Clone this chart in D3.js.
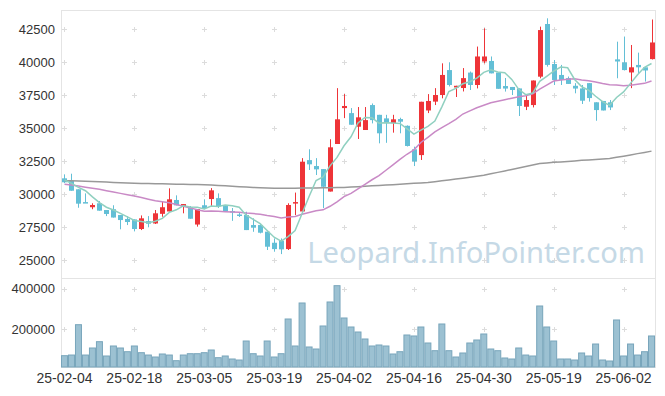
<!DOCTYPE html>
<html>
<head>
<meta charset="utf-8">
<script src="https://cdn.jsdelivr.net/npm/d3@7"></script>
<style>
  body { margin: 0; background: #fff; }
  svg { display: block; font-family: "Noto Sans", sans-serif; }
</style>
</head>
<body>
<svg id="chart" width="665" height="396"></svg>
<script>
// trading days
const dates = [
  "25-02-04","25-02-05","25-02-06","25-02-07","25-02-10","25-02-11","25-02-12","25-02-13","25-02-14","25-02-17",
  "25-02-18","25-02-19","25-02-20","25-02-21","25-02-24","25-02-25","25-02-26","25-02-27","25-02-28","25-03-04",
  "25-03-05","25-03-06","25-03-07","25-03-10","25-03-11","25-03-12","25-03-13","25-03-14","25-03-17","25-03-18",
  "25-03-19","25-03-20","25-03-21","25-03-24","25-03-25","25-03-26","25-03-27","25-03-28","25-03-31","25-04-01",
  "25-04-02","25-04-03","25-04-04","25-04-07","25-04-08","25-04-09","25-04-10","25-04-11","25-04-14","25-04-15",
  "25-04-16","25-04-17","25-04-18","25-04-21","25-04-22","25-04-23","25-04-24","25-04-25","25-04-28","25-04-29",
  "25-04-30","25-05-02","25-05-07","25-05-08","25-05-09","25-05-12","25-05-13","25-05-14","25-05-15","25-05-16",
  "25-05-19","25-05-20","25-05-21","25-05-22","25-05-23","25-05-26","25-05-27","25-05-28","25-05-29","25-05-30",
  "25-06-02","25-06-04","25-06-05","25-06-09","25-06-10"
];

const open = [
  31190,31000,30360,29390,29000,29300,28790,28850,28410,28110,
  28080,27350,27950,27770,28500,28680,29550,29090,29000,27690,
  29150,29620,29690,29090,28710,28450,28410,27650,27650,27150,
  26310,26460,25830,29320,28680,32570,32120,31890,30190,33790,
  36510,36130,35100,34850,36740,36000,35730,35370,35680,35170,
  33390,32950,36330,37000,37500,39390,38070,38030,39200,38260,
  40040,40080,39200,38180,38110,38000,36610,36740,38890,42880,
  39850,39020,38780,38200,38000,38400,36950,37050,36950,40200,
  39970,39210,39780,39600,40220
];
const high = [
  31490,31540,30360,30050,29300,29470,28790,29150,28410,28330,
  28080,28380,28330,28790,29420,30430,29900,29240,29090,28860,
  29600,30450,30050,29100,28940,28560,28660,28160,27730,27150,
  26640,26640,29300,30110,32720,33390,32720,31890,34150,38020,
  37570,36510,36590,36590,36860,36000,36000,36000,35780,35200,
  33590,36990,37570,38020,39900,39980,38200,39540,39280,41170,
  42550,40420,39200,38790,38110,38000,37500,38600,42680,43310,
  40150,39780,38900,38400,38260,38400,36950,37050,37120,41540,
  41930,41290,40710,39600,43220
];
const low = [
  30830,30250,28960,29340,28850,28740,28330,28220,27330,27650,
  27170,27270,27480,27730,28280,28680,29140,28540,28130,27530,
  28850,29020,28940,28680,27970,28260,27270,27140,27020,25760,
  25630,25450,25760,28410,28550,31820,31440,28940,30190,33790,
  35750,35250,34170,34850,35350,33840,33880,34650,34600,33600,
  32120,32580,36130,36740,37250,38150,37350,37770,37880,38000,
  39900,39140,37970,37760,37500,35910,36360,36560,38770,39650,
  38260,38260,38340,37630,36820,37000,35550,36330,36360,38770,
  39360,38020,39150,38520,40190
];
const close = [
  30890,30250,29270,29340,29170,28740,28490,28220,28030,27880,
  27350,28160,27750,28540,29000,29600,29140,29240,28130,28860,
  28940,30280,29060,28680,28600,28380,27270,27450,27070,26010,
  25830,25810,29170,29390,32450,32250,31870,30550,33540,35660,
  36670,35250,35810,35600,35600,34600,35420,35660,35480,33640,
  32470,36990,37050,37500,39020,38260,38200,38780,38260,40420,
  40420,39140,37970,37990,37880,36670,37120,38600,42420,39780,
  38640,38640,38340,37990,37070,37270,36360,36330,36560,40040,
  39390,39600,39600,39360,41480
];
const volume = [
  67500,70800,221300,70800,105700,137000,66000,115600,105700,87300,
  115600,82400,70800,61000,75900,70800,42700,70800,77400,77400,
  82400,95800,57600,66000,51100,46100,140400,77400,66000,140400,
  61000,77400,249600,115600,329000,110700,100700,214900,334000,414900,
  254600,209900,185100,150400,115600,120600,115600,75900,87300,170200,
  165300,209900,130500,92300,224800,92300,61000,80900,130500,145400,
  175200,100700,92300,56100,51100,105700,70800,66000,314100,209900,
  140400,51100,51100,46100,80900,66000,125500,46100,41200,244700,
  66000,125500,70800,87300,165300
];

const ma5Head = [31060, 30810, 30510, 30250];
const ma20Head = [
  30740,30680,30600,30510,30430,30360,30250,30150,30050,29950,
  29850,29730,29610,29490,29410,29340,29200,29080,28950
];
const ma120 = [
  31010,31000,30990,30970,30950,30930,30910,30880,30860,30830,
  30810,30800,30790,30780,30770,30760,30750,30740,30730,30720,
  30700,30680,30650,30620,30590,30560,30530,30500,30470,30450,
  30430,30430,30440,30440,30450,30450,30460,30470,30480,30490,
  30500,30530,30560,30590,30620,30650,30680,30710,30740,30780,
  30810,30840,30870,30930,31000,31060,31130,31200,31270,31340,
  31420,31530,31640,31750,31860,31970,32080,32200,32320,32360,
  32400,32430,32470,32510,32550,32580,32620,32660,32690,32780,
  32870,32960,33060,33150,33250
];

const priceTicks = [25000, 27500, 30000, 32500, 35000, 37500, 40000, 42500];
const volumeTicks = [200000, 400000];
const tickDates = dates.filter((d, i) => i % 10 === 0);

function movingAvg(n, head) {
  return close.map((c, i) => {
    if (i < n - 1) return head[i];
    return d3.mean(close.slice(i - n + 1, i + 1));
  });
}
const ma5 = movingAvg(5, ma5Head);
const ma20 = movingAvg(20, ma20Head);

const left = 61, right = 655;
const priceTop = 10, priceBottom = 278;
const volTop = 278, volBottom = 367;

const svg = d3.select("#chart");

const x = d3.scaleBand().domain(dates).range([left, right]).padding(0);
const bw = x.bandwidth();
const cx = (i) => x(dates[i]) + bw / 2;

const y = d3.scaleLinear().domain([23640, 43940]).range([priceBottom, priceTop]);
const yv = d3.scaleLinear().domain([11400, 453000]).range([volBottom, volTop]);

// frame
svg.append("rect")
  .attr("x", left + 0.5).attr("y", priceTop + 0.5)
  .attr("width", right - left).attr("height", volBottom - priceTop)
  .attr("fill", "none").attr("stroke", "#e4e4e4");
svg.append("line")
  .attr("x1", left).attr("x2", right)
  .attr("y1", priceBottom + 0.5).attr("y2", priceBottom + 0.5)
  .attr("stroke", "#e4e4e4");

// grid crosses
const crossX = tickDates.map((d) => x(d) + bw / 2);
const crossY = priceTicks.map(y).concat(volumeTicks.map(yv));
const grid = svg.append("g").attr("stroke", "#dcdcdc").attr("stroke-width", 1);
crossX.forEach((gx) => {
  crossY.forEach((gy) => {
    const px = Math.round(gx) + 0.5, py = Math.round(gy) + 0.5;
    grid.append("path").attr("d", `M${px - 2.5},${py}H${px + 2.5}M${px},${py - 2.5}V${py + 2.5}`);
  });
});

// watermark, sized to span the same width as in the source
const wm = svg.append("text")
  .attr("x", 645).attr("y", 263)
  .attr("text-anchor", "end")
  .attr("font-size", 34)
  .attr("fill", "#c5d9e6")
  .text("Leopard.InfoPointer.com");
const wmLen = wm.node().getComputedTextLength();
wm.attr("font-size", 34 * 338 / wmLen);

// volume bars
svg.append("g")
  .selectAll("rect")
  .data(volume)
  .join("rect")
  .attr("x", (d, i) => x(dates[i]) + 0.5)
  .attr("y", (d) => yv(d))
  .attr("width", bw - 1)
  .attr("height", (d) => volBottom - yv(d))
  .attr("fill", "#9cc1d2")
  .attr("stroke", "#78a5bb")
  .attr("stroke-width", 1);

// candles
const red = "#ee3438", blue = "#63bfd6";
const candles = svg.append("g")
  .selectAll("g")
  .data(dates.map((d, i) => i))
  .join("g");
candles.append("line")
  .attr("x1", (i) => Math.round(cx(i)) + 0.5)
  .attr("x2", (i) => Math.round(cx(i)) + 0.5)
  .attr("y1", (i) => y(high[i]))
  .attr("y2", (i) => y(low[i]))
  .attr("stroke", (i) => (close[i] >= open[i] ? red : blue))
  .attr("stroke-width", 1);
candles.append("rect")
  .attr("x", (i) => Math.round(cx(i)) + 0.5 - 2.5)
  .attr("width", 5)
  .attr("y", (i) => y(Math.max(open[i], close[i])))
  .attr("height", (i) => Math.max(1.5, Math.abs(y(open[i]) - y(close[i]))))
  .attr("fill", (i) => (close[i] >= open[i] ? red : blue));

// moving average lines
const line = d3.line().x((d, i) => cx(i)).y((d) => y(d));
[[ma120, "#999999"], [ma20, "#c98ac6"], [ma5, "#90d0c0"]].forEach(([vals, col]) => {
  svg.append("path")
    .attr("d", line(vals))
    .attr("fill", "none")
    .attr("stroke", col)
    .attr("stroke-width", 1.5);
});

// axes
const yAxis = d3.axisLeft(y).tickValues(priceTicks).tickFormat(d3.format("d"))
  .tickSize(0).tickPadding(6);
svg.append("g")
  .attr("transform", `translate(${left},0)`)
  .call(yAxis)
  .call((g) => g.select(".domain").remove())
  .selectAll("text")
  .attr("font-size", 13).attr("fill", "#333");

const yvAxis = d3.axisLeft(yv).tickValues(volumeTicks).tickFormat(d3.format("d"))
  .tickSize(0).tickPadding(6);
svg.append("g")
  .attr("transform", `translate(${left},0)`)
  .call(yvAxis)
  .call((g) => g.select(".domain").remove())
  .selectAll("text")
  .attr("font-size", 13).attr("fill", "#333");

const xAxis = d3.axisBottom(x).tickValues(tickDates).tickSize(0).tickPadding(6);
svg.append("g")
  .attr("transform", `translate(0,${volBottom})`)
  .call(xAxis)
  .call((g) => g.select(".domain").remove())
  .selectAll("text")
  .attr("font-size", 14).attr("fill", "#333");
</script>
</body>
</html>
